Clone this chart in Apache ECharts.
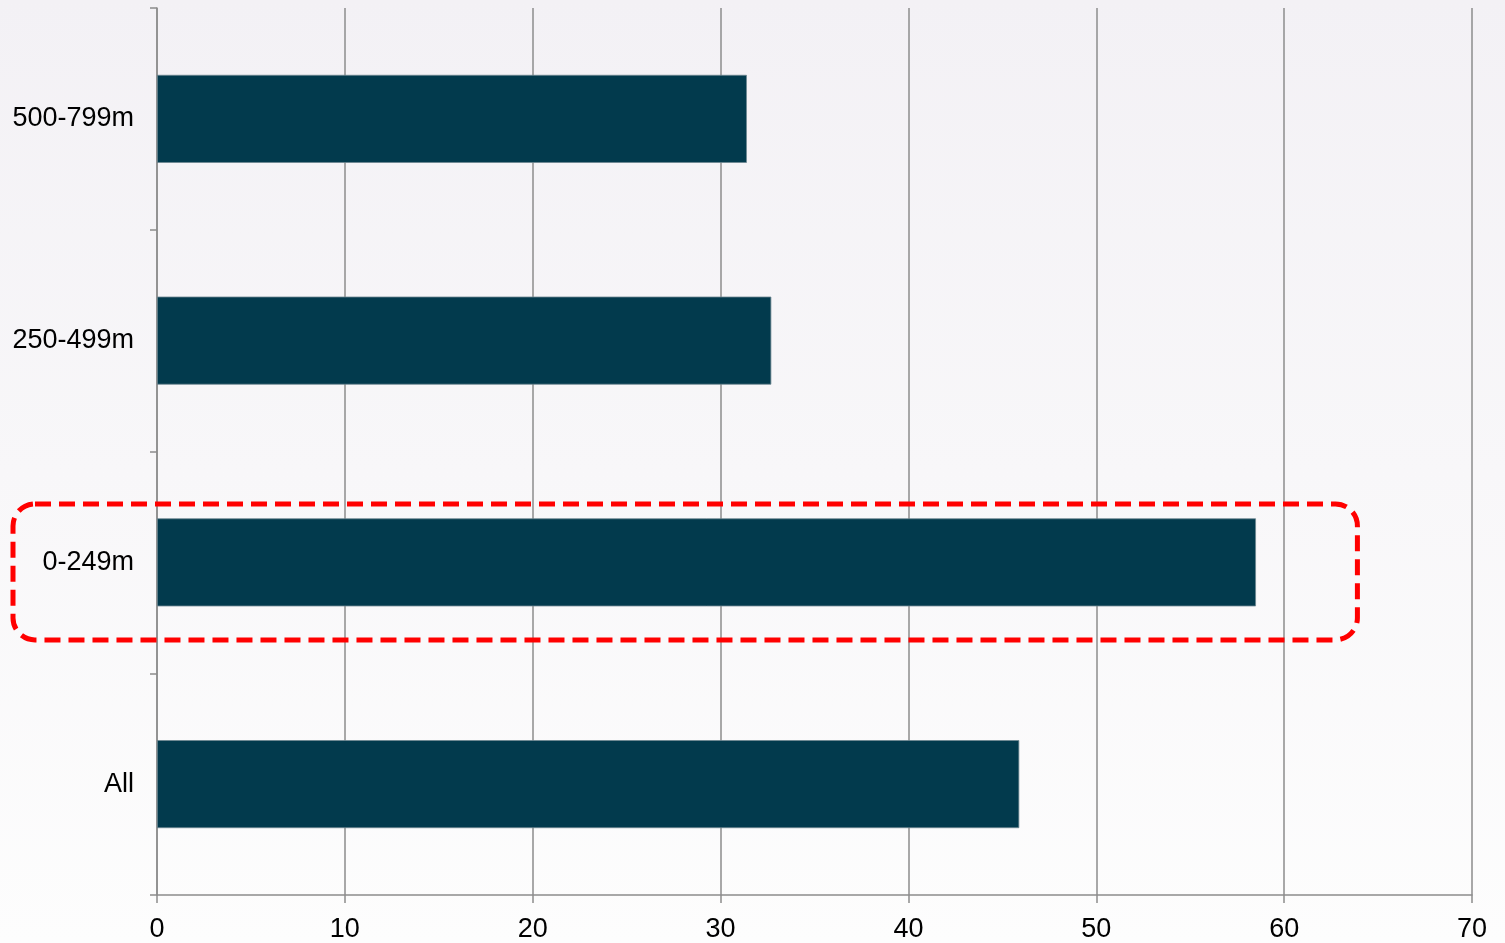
<!DOCTYPE html>
<html>
<head>
<meta charset="utf-8">
<script src="https://cdn.jsdelivr.net/npm/echarts@6/dist/echarts.min.js"></script>
<style>
html,body{margin:0;padding:0;background:#fff;}
#chart{width:1505px;height:943px;}
</style>
</head>
<body>
<div id="chart"></div>
<script>
const categories = ['All', '0-249m', '250-499m', '500-799m'];
const values = [45.9, 58.5, 32.7, 31.4];
const xTicks = [0, 10, 20, 30, 40, 50, 60, 70];
const highlightCategory = '0-249m';
const highlightRightValue = 63.9;

const chart = echarts.init(document.getElementById('chart'));
const axisColor = '#8c8c8c';
const option = {
  backgroundColor: {
    type: 'linear', x: 0, y: 0, x2: 0, y2: 1,
    colorStops: [{offset: 0, color: '#f3f1f5'}, {offset: 1, color: '#fdfdfd'}]
  },
  animation: false,
  grid: {left: 157, right: 33, top: 8, bottom: 48, containLabel: false},
  xAxis: {
    type: 'value', min: xTicks[0], max: xTicks[xTicks.length - 1], interval: 10,
    axisLine: {show: true, lineStyle: {color: axisColor, width: 1.5}},
    axisTick: {show: true, length: 8, lineStyle: {color: axisColor, width: 1.5}},
    splitLine: {show: true, lineStyle: {color: axisColor, width: 1.5}},
    axisLabel: {color: '#000', fontSize: 27, fontFamily: 'Liberation Sans, Arial, sans-serif', margin: 21}
  },
  yAxis: {
    type: 'category', data: categories,
    axisLine: {show: true, lineStyle: {color: axisColor, width: 1.5}},
    axisTick: {show: true, length: 7, lineStyle: {color: axisColor, width: 1.5}},
    axisLabel: {color: '#000', fontSize: 27, fontFamily: 'Liberation Sans, Arial, sans-serif', margin: 23}
  },
  series: [{
    type: 'bar', data: values, barWidth: '39.7%',
    itemStyle: {color: '#023a4d', borderColor: '#6d8791', borderWidth: 0.8}
  }]
};
chart.setOption(option);

const c = chart.convertToPixel({xAxisIndex: 0, yAxisIndex: 0}, [highlightRightValue, highlightCategory]);
const leftX = 13;
chart.setOption({
  graphic: [{
    type: 'rect', z: 100,
    shape: {x: leftX, y: c[1] - 58.5, width: c[0] - leftX, height: 136, r: 22},
    style: {fill: 'none', stroke: '#ff0000', lineWidth: 5, lineDash: [16, 8]}
  }]
});
</script>
</body>
</html>
